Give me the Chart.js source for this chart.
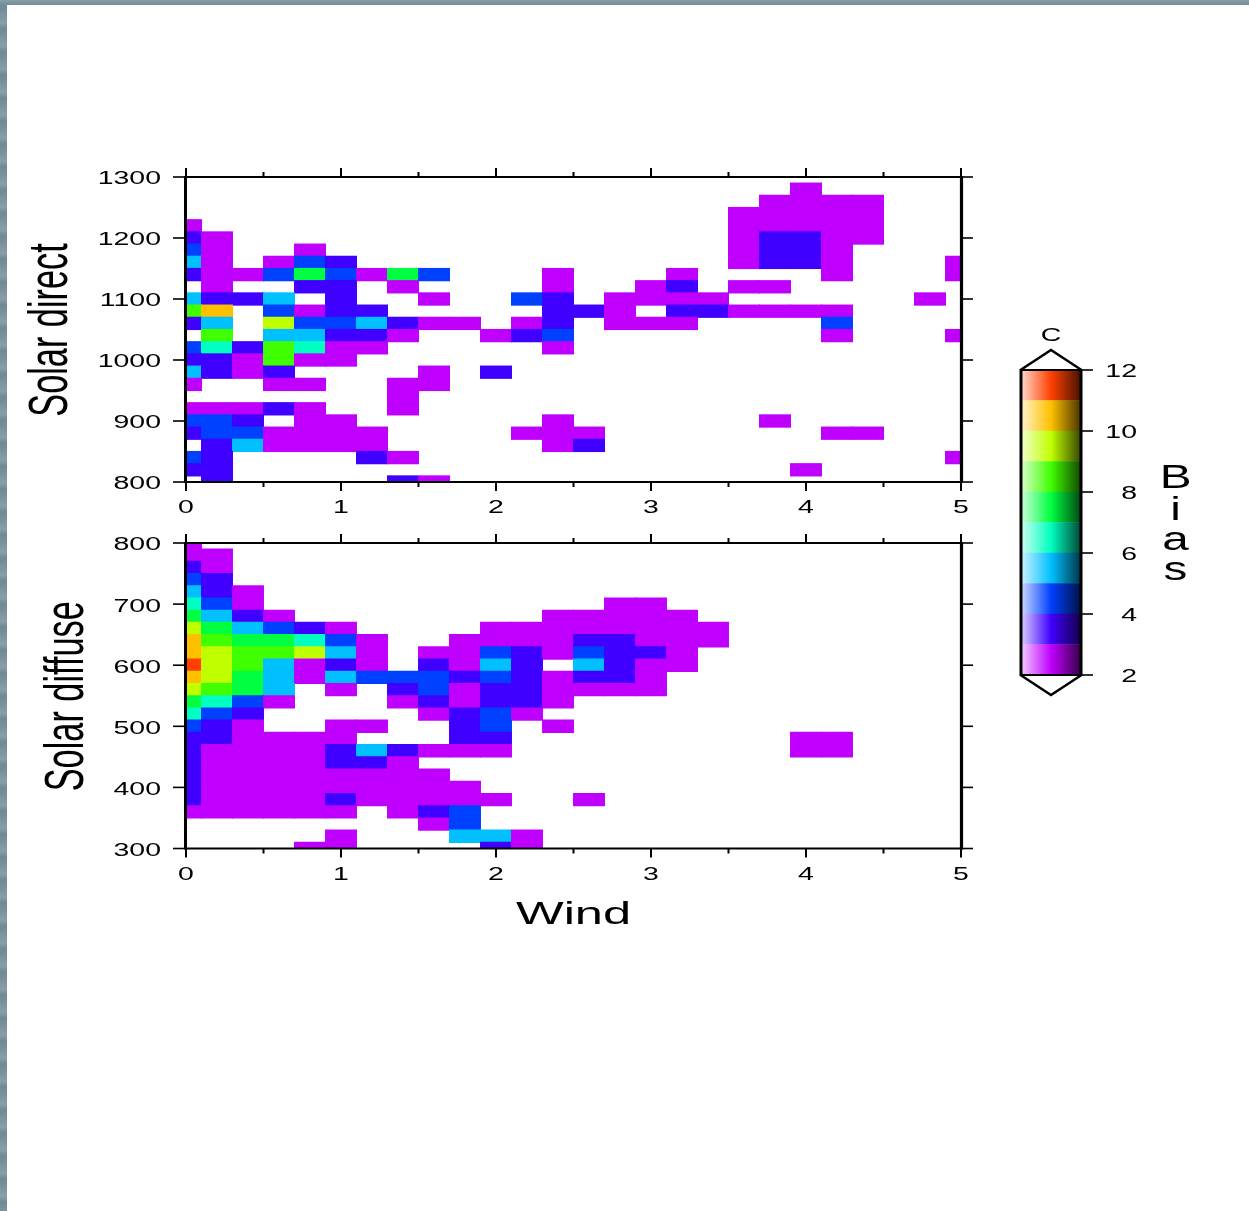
<!DOCTYPE html>
<html>
<head>
<meta charset="utf-8">
<title>Bias</title>
<script src="https://cdn.jsdelivr.net/npm/chart.js@4/dist/chart.umd.min.js"></script>
<style>
    html, body { margin: 0; padding: 0; }
    body {
        width: 1249px; height: 1211px; position: relative; overflow: hidden;
        background: repeating-linear-gradient(0deg, #7c93a0 0, #6f8997 9px, #8a9ea9 15px, #7c93a0 23px);
    }
    #sheet { position: absolute; left: 7px; top: 5px; right: 0; bottom: 0; background: #fff; }
    canvas { position: absolute; }
</style>
</head>
<body>
<div id="sheet"></div>
<canvas id="directChart" width="1000" height="390" style="left:0;top:130px"></canvas>
<canvas id="diffuseChart" width="1000" height="420" style="left:0;top:520px"></canvas>
<canvas id="barChart" width="240" height="400" style="left:1000px;top:320px"></canvas>
<script>
const _ = null;

/* ================= DATA ================= */

const windNodes = [0,0.2,0.4,0.6,0.8,1,1.2,1.4,1.6,1.8,2,2.2,2.4,2.6,2.8,3,3.2,3.4,3.6,3.8,4,4.2,4.4,4.6,4.8,5];
const directNodes = [1300,1280,1260,1240,1220,1200,1180,1160,1140,1120,1100,1080,1060,1040,1020,1000,980,960,940,920,900,880,860,840,820,800];
const diffuseNodes = [800,780,760,740,720,700,680,660,640,620,600,580,560,540,520,500,480,460,440,420,400,380,360,340,320,300];

const windTicks = [0,1,2,3,4,5];
const windMinorTicks = [0.5,1.5,2.5,3.5,4.5];
const directTicks = [800,900,1000,1100,1200,1300];
const diffuseTicks = [300,400,500,600,700,800];
const biasTicks = [2,4,6,8,10,12];

// one row per node on the solar axis, top row first, trailing blanks left off
const directBias = [
    [],
    [_,_,_,_,_, _,_,_,_,_, _,_,_,_,_, _,_,_,_,_, 2.5],
    [_,_,_,_,_, _,_,_,_,_, _,_,_,_,_, _,_,_,_,2.5, 2.5,2.5,2.5],
    [_,_,_,_,_, _,_,_,_,_, _,_,_,_,_, _,_,_,2.5,2.5, 2.5,2.5,2.5],
    [2.5,_,_,_,_, _,_,_,_,_, _,_,_,_,_, _,_,_,2.5,2.5, 2.5,2.5,2.5],
    [3.5,2.5,_,_,_, _,_,_,_,_, _,_,_,_,_, _,_,_,2.5,3.5, 3.5,2.5,2.5],
    [4.5,2.5,_,_,2.5, _,_,_,_,_, _,_,_,_,_, _,_,_,2.5,3.5, 3.5,2.5],
    [5.5,2.5,_,2.5,4.5, 3.5,_,_,_,_, _,_,_,_,_, _,_,_,2.5,3.5, 3.5,2.5,_,_,_, 2.5],
    [3.5,2.5,2.5,4.5,7.5, 4.5,2.5,7.5,4.5,_, _,_,2.5,_,_, _,2.5,_,_,_, _,2.5,_,_,_, 2.5],
    [_,2.5,_,_,3.5, 3.5,_,2.5,_,_, _,_,2.5,_,_, 2.5,3.5,_,2.5,2.5],
    [5.5,3.5,3.5,5.5,_, 3.5,_,_,2.5,_, _,4.5,3.5,_,2.5, 2.5,2.5,2.5,_,_, _,_,_,_,2.5],
    [8.5,10.5,_,4.5,2.5, 3.5,3.5,_,_,_, _,_,3.5,3.5,2.5, _,3.5,3.5,2.5,2.5, 2.5,2.5],
    [3.5,5.5,_,9.5,4.5, 4.5,5.5,3.5,2.5,2.5, _,2.5,3.5,_,2.5, 2.5,2.5,_,_,_, _,4.5],
    [_,8.5,_,5.5,5.5, 3.5,3.5,2.5,_,_, 2.5,3.5,4.5,_,_, _,_,_,_,_, _,2.5,_,_,_, 2.5],
    [4.5,6.5,3.5,8.5,6.5, 2.5,2.5,_,_,_, _,_,2.5],
    [3.5,3.5,2.5,8.5,2.5, 2.5],
    [5.5,3.5,2.5,3.5,_, _,_,_,2.5,_, 3.5],
    [2.5,_,_,2.5,2.5, _,_,2.5,2.5],
    [_,_,_,_,_, _,_,2.5],
    [2.5,2.5,2.5,3.5,2.5, _,_,2.5],
    [4.5,4.5,3.5,_,2.5, 2.5,_,_,_,_, _,_,2.5,_,_, _,_,_,_,2.5],
    [3.5,4.5,4.5,2.5,2.5, 2.5,2.5,_,_,_, _,2.5,2.5,2.5,_, _,_,_,_,_, _,2.5,2.5],
    [_,3.5,5.5,2.5,2.5, 2.5,2.5,_,_,_, _,_,2.5,3.5],
    [4.5,3.5,_,_,_, _,3.5,2.5,_,_, _,_,_,_,_, _,_,_,_,_, _,_,_,_,_, 2.5],
    [3.5,3.5,_,_,_, _,_,_,_,_, _,_,_,_,_, _,_,_,_,_, 2.5],
    [_,3.5,_,_,_, _,_,3.5,2.5]
];

const diffuseBias = [
    [2.5],
    [2.5,2.5],
    [3.5,2.5],
    [4.5,3.5],
    [5.5,3.5,2.5],
    [6.5,4.5,2.5,_,_, _,_,_,_,_, _,_,_,_,2.5, 2.5],
    [7.5,5.5,3.5,2.5,_, _,_,_,_,_, _,_,2.5,2.5,2.5, 2.5,2.5],
    [9.5,7.5,5.5,4.5,3.5, 2.5,_,_,_,_, 2.5,2.5,2.5,2.5,2.5, 2.5,2.5,2.5],
    [10.5,8.5,7.5,7.5,6.5, 4.5,2.5,_,_,2.5, 2.5,2.5,2.5,3.5,3.5, 2.5,2.5,2.5],
    [10.5,9.5,8.5,8.5,9.5, 5.5,2.5,_,2.5,2.5, 4.5,3.5,2.5,4.5,3.5, 3.5,2.5],
    [11.5,9.5,8.5,5.5,2.5, 3.5,2.5,_,3.5,2.5, 5.5,3.5,_,5.5,3.5, 2.5,2.5],
    [10.5,9.5,7.5,5.5,2.5, 5.5,4.5,4.5,4.5,3.5, 4.5,3.5,2.5,3.5,3.5, 2.5],
    [9.5,8.5,7.5,5.5,_, 2.5,_,3.5,4.5,2.5, 3.5,3.5,2.5,2.5,2.5, 2.5],
    [7.5,6.5,4.5,2.5,_, _,_,2.5,3.5,2.5, 3.5,3.5,2.5],
    [6.5,4.5,3.5,_,_, _,_,_,2.5,3.5, 4.5,2.5],
    [4.5,3.5,2.5,_,_, 2.5,2.5,_,_,3.5, 4.5,_,2.5],
    [3.5,3.5,2.5,2.5,2.5, 2.5,_,_,_,3.5, 3.5,_,_,_,_, _,_,_,_,_, 2.5,2.5],
    [3.5,2.5,2.5,2.5,2.5, 3.5,5.5,3.5,2.5,2.5, 2.5,_,_,_,_, _,_,_,_,_, 2.5,2.5],
    [3.5,2.5,2.5,2.5,2.5, 3.5,3.5,2.5],
    [3.5,2.5,2.5,2.5,2.5, 2.5,2.5,2.5,2.5],
    [3.5,2.5,2.5,2.5,2.5, 2.5,2.5,2.5,2.5,2.5],
    [3.5,2.5,2.5,2.5,2.5, 3.5,2.5,2.5,2.5,2.5, 2.5,_,_,2.5],
    [2.5,2.5,2.5,2.5,2.5, 2.5,_,2.5,3.5,4.5],
    [_,_,_,_,_, _,_,_,2.5,4.5],
    [_,_,_,_,_, 2.5,_,_,_,5.5, 5.5,2.5],
    [_,_,_,_,2.5, 2.5,_,_,_,_, 3.5,2.5]
];

const biasBands = [[2,3],[3,4],[4,5],[5,6],[6,7],[7,8],[8,9],[9,10],[10,11],[11,12]];
const bandColors = ["#c000ff","#4000ff","#0040ff","#00c0ff","#00ffc0","#00ff40","#40ff00","#c0ff00","#ffc000","#ff4000"];

/* ================= HELPERS ================= */

const FONT = '"Liberation Sans", Arial, sans-serif';
const STRETCH = 1.58;

function colorFor(bias) {
    return bandColors[Math.floor(bias) - 2];
}

// cells overlap by a hair so no seams show between neighbours
function buildCells(nodes, rows) {
    const cells = [];
    rows.forEach(function (row, r) {
        row.forEach(function (bias, c) {
            if (bias === null) return;
            cells.push({ x: windNodes[c], y: [nodes[r] - 10.4, nodes[r] + 10.4], bias: bias });
        });
    });
    return cells;
}

function wideText(ctx, text, x, y, size, align) {
    ctx.save();
    ctx.translate(x, y + 2.5);
    ctx.scale(STRETCH, 1);
    ctx.font = size + "px " + FONT;
    ctx.fillStyle = "#000";
    ctx.textAlign = align || "center";
    ctx.textBaseline = "middle";
    ctx.fillText(text, 0, 0);
    ctx.restore();
}

function line(ctx, x1, y1, x2, y2, width) {
    ctx.lineWidth = width;
    ctx.beginPath();
    ctx.moveTo(x1, y1);
    ctx.lineTo(x2, y2);
    ctx.stroke();
}

/* ================= PANELS ================= */

function panelFrame(yTicks, title, titleX, showWind) {
    return {
        id: "panelFrame",
        afterDraw: function (chart) {
            const ctx = chart.ctx;
            const area = chart.chartArea;
            const x = chart.scales.x;
            const y = chart.scales.y;
            ctx.save();
            ctx.strokeStyle = "#000";
            ctx.lineCap = "butt";

            windTicks.forEach(function (t) {
                const px = x.getPixelForValue(t);
                line(ctx, px, area.top, px, area.top - 9, 2);
                line(ctx, px, area.bottom, px, area.bottom + 9, 2);
                wideText(ctx, String(t), px, area.bottom + 24, 18);
            });
            windMinorTicks.forEach(function (t) {
                const px = x.getPixelForValue(t);
                line(ctx, px, area.top, px, area.top - 5, 2);
                line(ctx, px, area.bottom, px, area.bottom + 5, 2);
            });
            yTicks.forEach(function (t) {
                const py = y.getPixelForValue(t);
                line(ctx, area.left - 13, py, area.left, py, 1.6);
                line(ctx, area.right, py, area.right + 12, py, 1.6);
                wideText(ctx, String(t), area.left - 25, py, 18, "right");
            });

            line(ctx, area.left - 1.5, area.top, area.right + 1.5, area.top, 2);
            line(ctx, area.left - 1.5, area.bottom, area.right + 1.5, area.bottom, 2);
            line(ctx, area.left - 0.5, area.top - 1, area.left - 0.5, area.bottom + 1, 3);
            line(ctx, area.right + 0.5, area.top - 1, area.right + 0.5, area.bottom + 1, 3.2);

            // the y title is tall and narrow, the opposite way round from the tick labels
            ctx.save();
            ctx.translate(titleX, (area.top + area.bottom) / 2 + 0.5);
            ctx.rotate(-Math.PI / 2);
            ctx.scale(1, 1.6);
            ctx.font = "34.3px " + FONT;
            ctx.fillStyle = "#000";
            ctx.textAlign = "center";
            ctx.textBaseline = "alphabetic";
            ctx.fillText(title, 0, 0);
            ctx.restore();

            if (showWind) {
                wideText(ctx, "Wind", (area.left + area.right) / 2, area.bottom + 64, 32);
            }
            ctx.restore();
        }
    };
}

function renderPanel(id, nodes, rows, yTicks, title, titleX, showWind, padding) {
    new Chart(document.getElementById(id), {
        type: "bar",
        data: {
            datasets: [{
                data: buildCells(nodes, rows),
                backgroundColor: function (c) {
                    return c.raw ? colorFor(c.raw.bias) : "#000";
                },
                borderWidth: 0,
                barThickness: 31.3,
                grouped: false
            }]
        },
        options: {
            responsive: false,
            animation: false,
            layout: { padding: padding },
            plugins: { legend: { display: false }, tooltip: { enabled: false } },
            scales: {
                x: { type: "linear", min: 0, max: 5, offset: false, display: false, grid: { offset: false } },
                y: { type: "linear", min: yTicks[0], max: yTicks[yTicks.length - 1], display: false }
            }
        },
        plugins: [panelFrame(yTicks, title, titleX, showWind)]
    });
}

renderPanel("directChart", directNodes, directBias, directTicks, "Solar direct", 67, false,
    { left: 186, right: 39, top: 47, bottom: 38 });
renderPanel("diffuseChart", diffuseNodes, diffuseBias, diffuseTicks, "Solar diffuse", 83, true,
    { left: 186, right: 39, top: 23, bottom: 91.5 });

/* ================= COLOUR BAR ================= */

function bandGradient(chart, hex) {
    const area = chart.chartArea;
    const r = parseInt(hex.substr(1, 2), 16);
    const g = parseInt(hex.substr(3, 2), 16);
    const b = parseInt(hex.substr(5, 2), 16);
    const light = "rgb(" + [r, g, b].map(function (v) { return Math.round(v + (255 - v) * 0.78); }).join(",") + ")";
    const dark = "rgb(" + [r, g, b].map(function (v) { return Math.round(v * 0.3); }).join(",") + ")";
    const grad = chart.ctx.createLinearGradient(area.left, 0, area.right, 0);
    grad.addColorStop(0, light);
    grad.addColorStop(0.5, hex);
    grad.addColorStop(1, dark);
    return grad;
}

const barFrame = {
    id: "barFrame",
    afterDraw: function (chart) {
        const ctx = chart.ctx;
        const area = chart.chartArea;
        const y = chart.scales.y;
        const mid = (area.left + area.right) / 2;
        ctx.save();
        ctx.strokeStyle = "#000";
        ctx.lineJoin = "miter";

        ctx.lineWidth = 2.4;
        ctx.beginPath();
        ctx.moveTo(area.left - 1.5, area.top);
        ctx.lineTo(mid, area.top - 20);
        ctx.lineTo(area.right + 1.5, area.top);
        ctx.stroke();
        ctx.beginPath();
        ctx.moveTo(area.left - 1.5, area.bottom);
        ctx.lineTo(mid, area.bottom + 20);
        ctx.lineTo(area.right + 1.5, area.bottom);
        ctx.stroke();

        line(ctx, area.left - 1, area.top - 1, area.left - 1, area.bottom + 1, 3);
        line(ctx, area.right + 1, area.top - 1, area.right + 1, area.bottom + 1, 3);
        line(ctx, area.left - 2, area.top, area.right + 2, area.top, 2);
        line(ctx, area.left - 2, area.bottom, area.right + 2, area.bottom, 2);

        biasTicks.forEach(function (t) {
            const py = y.getPixelForValue(t);
            line(ctx, area.right + 2, py, area.right + 13, py, 1.6);
            wideText(ctx, String(t), area.right + 57, py, 18, "right");
        });

        wideText(ctx, "C", mid, area.top - 36, 18);

        // the label reads down the side, one upright letter at a time
        const letters = ["B", "i", "a", "s"];
        const rowsY = [168, 200, 230, 260];
        letters.forEach(function (ch, i) {
            ctx.save();
            ctx.translate(175.5, rowsY[i]);
            ctx.font = "34px " + FONT;
            ctx.scale(1.4, 1);
            ctx.fillStyle = "#000";
            ctx.textAlign = "center";
            ctx.textBaseline = "alphabetic";
            ctx.fillText(ch, 0, 0);
            ctx.restore();
        });
        ctx.restore();
    }
};

new Chart(document.getElementById("barChart"), {
    type: "bar",
    data: {
        labels: ["Bias"],
        datasets: biasBands.map(function (band, i) {
            return {
                data: [band],
                backgroundColor: function (c) {
                    if (!c.chart.chartArea) return bandColors[i];
                    return bandGradient(c.chart, bandColors[i]);
                },
                borderWidth: 0,
                barPercentage: 1,
                categoryPercentage: 1,
                grouped: false
            };
        })
    },
    options: {
        responsive: false,
        animation: false,
        layout: { padding: { left: 22, right: 160, top: 50, bottom: 45 } },
        plugins: { legend: { display: false }, tooltip: { enabled: false } },
        scales: {
            x: { display: false },
            y: { type: "linear", min: 2, max: 12, display: false }
        }
    },
    plugins: [barFrame]
});
</script>
</body>
</html>
